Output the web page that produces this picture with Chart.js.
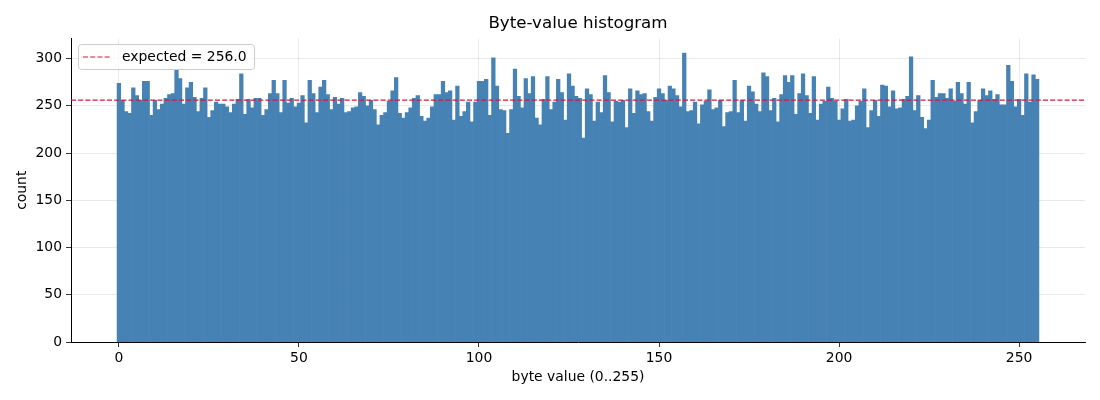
<!DOCTYPE html>
<html>
<head>
<meta charset="utf-8">
<script src="https://cdn.jsdelivr.net/npm/chart.js@4.4.1/dist/chart.umd.min.js"></script>
<style>
  html, body { margin: 0; padding: 0; background: #fff; }
  #wrap { width: 1100px; height: 400px; }
</style>
</head>
<body>
<div id="wrap"><canvas id="chart" width="1100" height="400"></canvas></div>
<script>
// byte values 0..255 on the x axis
const byteValues = Array.from({ length: 256 }, (_, i) => i);

// counts per byte value
const counts = [
  274, 256, 244, 242, 269, 261, 256, 276, 276, 240, 256, 246, 252, 258, 262, 263,
  288, 279, 252, 269, 275, 259, 244, 258, 269, 238, 245, 254, 252, 252, 249, 243,
  252, 257, 284, 241, 257, 248, 258, 258, 240, 246, 263, 277, 263, 243, 277, 253,
  258, 249, 253, 261, 232, 277, 263, 243, 270, 277, 262, 246, 259, 252, 258, 243,
  244, 248, 249, 264, 260, 250, 256, 246, 230, 240, 243, 255, 266, 280, 242, 237,
  243, 248, 258, 261, 239, 234, 237, 249, 262, 262, 276, 264, 266, 235, 271, 239,
  244, 254, 233, 254, 276, 276, 278, 240, 301, 271, 246, 245, 221, 246, 289, 260,
  248, 279, 263, 281, 237, 230, 257, 281, 246, 254, 278, 264, 235, 284, 271, 260,
  258, 216, 268, 262, 234, 254, 243, 282, 264, 233, 255, 254, 256, 227, 268, 242,
  266, 262, 263, 244, 234, 259, 268, 263, 256, 271, 268, 261, 249, 306, 244, 245,
  254, 231, 251, 255, 267, 246, 248, 256, 228, 243, 244, 277, 243, 256, 234, 271,
  265, 252, 244, 285, 281, 245, 258, 233, 262, 282, 275, 282, 241, 263, 284, 261,
  242, 281, 235, 252, 255, 270, 258, 255, 235, 247, 257, 234, 235, 250, 255, 268,
  227, 245, 256, 239, 272, 271, 249, 266, 247, 248, 257, 260, 302, 245, 261, 238,
  226, 235, 277, 259, 263, 263, 258, 268, 255, 275, 263, 252, 275, 232, 244, 256,
  268, 261, 266, 257, 262, 251, 251, 293, 276, 249, 257, 240, 284, 254, 283, 278
];

const expectedCount = 256.0;
const xTicks = [0, 50, 100, 150, 200, 250];
const yTicks = [0, 50, 100, 150, 200, 250, 300];

const FONT = 'DejaVu Sans';
const gridColor = 'rgba(176,176,176,0.35)';

// dashed horizontal line at the expected count + a matplotlib-like legend box
const expectedLine = {
  id: 'expectedLine',
  afterDatasetsDraw(chart) {
    const { ctx, chartArea } = chart;
    const y = chart.scales.y.getPixelForValue(expectedCount);
    ctx.save();
    ctx.strokeStyle = '#dc143c';
    ctx.lineWidth = 1.2;
    ctx.setLineDash([5, 2.2]);
    ctx.beginPath();
    ctx.moveTo(chartArea.left, y);
    ctx.lineTo(chartArea.right, y);
    ctx.stroke();

    // legend
    const label = 'expected = ' + expectedCount.toFixed(1);
    ctx.font = '13.9px "' + FONT + '"';
    const tw = ctx.measureText(label).width;
    const bx = Math.round(chartArea.left + 7), by = Math.round(chartArea.top + 5.5);
    const bw = Math.round(44 + tw + 7), bh = 25;
    ctx.setLineDash([]);
    ctx.fillStyle = 'rgba(255,255,255,0.8)';
    ctx.strokeStyle = '#cccccc';
    ctx.lineWidth = 1;
    ctx.beginPath();
    ctx.roundRect(bx + 0.5, by + 0.5, bw, bh, 3);
    ctx.fill();
    ctx.stroke();

    const cy = by + bh / 2 + 0.5;
    ctx.strokeStyle = '#dc143c';
    ctx.lineWidth = 1.2;
    ctx.setLineDash([5, 2.2]);
    ctx.beginPath();
    ctx.moveTo(bx + 5, cy);
    ctx.lineTo(bx + 33, cy);
    ctx.stroke();

    ctx.fillStyle = '#000';
    ctx.textBaseline = 'middle';
    ctx.textAlign = 'left';
    ctx.fillText(label, bx + 44, cy);
    ctx.restore();
  }
};

new Chart(document.getElementById('chart'), {
  type: 'bar',
  data: {
    datasets: [{
      label: 'count',
      data: byteValues.map((v, i) => ({ x: v, y: counts[i] })),
      backgroundColor: '#4682b4',
      borderWidth: 0,
      barPercentage: 1,
      categoryPercentage: 1
    }]
  },
  options: {
    responsive: false,
    animation: false,
    layout: { padding: { left: 0, right: 15, top: 0, bottom: 0 } },
    plugins: {
      legend: { display: false },
      tooltip: { enabled: false },
      title: {
        display: true,
        text: 'Byte-value histogram',
        fullSize: false,
        color: '#000',
        font: { family: FONT, size: 16.7, weight: 'normal' },
        padding: { top: 14, bottom: 4.5 }
      }
    },
    scales: {
      x: {
        type: 'linear',
        min: -13.3,
        max: 268.3,
        offset: false,
        z: 1,
        afterBuildTicks: s => { s.ticks = xTicks.map(v => ({ value: v })); },
        afterFit: s => { s.height = 58; },
        border: { color: '#000', width: 1 },
        grid: { offset: false, color: gridColor, lineWidth: 0.8, tickColor: '#000', tickLength: 5 },
        ticks: { color: '#000', font: { family: FONT, size: 13.9 }, padding: 3, maxRotation: 0 },
        title: {
          display: true, text: 'byte value (0..255)', color: '#000',
          font: { family: FONT, size: 13.9 }, padding: { top: 0, bottom: 14.7 }
        }
      },
      y: {
        min: 0,
        max: 321.3,
        z: 1,
        afterBuildTicks: s => { s.ticks = yTicks.map(v => ({ value: v })); },
        afterFit: s => { s.width = 71; },
        border: { color: '#000', width: 1 },
        grid: { color: gridColor, lineWidth: 0.8, tickColor: '#000', tickLength: 5 },
        ticks: { color: '#000', font: { family: FONT, size: 13.9 }, padding: 4 },
        title: {
          display: true, text: 'count', color: '#000',
          font: { family: FONT, size: 13.9 }, padding: { top: 13.7, bottom: 0 }
        }
      }
    }
  },
  plugins: [expectedLine]
});
</script>
</body>
</html>
